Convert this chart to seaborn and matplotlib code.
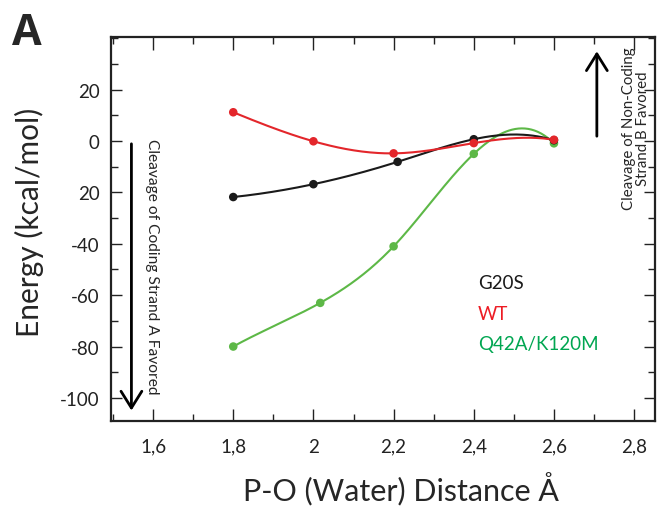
import numpy as np
import pandas as pd
import matplotlib
matplotlib.use("Agg")
import matplotlib.pyplot as plt
from matplotlib.ticker import MultipleLocator, FixedLocator
import seaborn as sns

# energy profiles (kcal/mol vs P-O distance)
g20s_x = [1.80, 2.00, 2.21, 2.40, 2.60]
g20s_y = [-21.8, -16.8, -8.1, 0.7, 0.3]
wt_x = [1.80, 2.00, 2.20, 2.40, 2.60]
wt_y = [11.2, -0.1, -4.8, -0.8, 0.5]
q42a_x = [1.80, 2.017, 2.20, 2.40, 2.60]
q42a_y = [-80.0, -63.0, -41.0, -5.0, -0.9]

series = ["G20S", "WT", "Q42A/K120M"]
line_colors = ["#1a1a1a", "#e3262b", "#5db847"]
text_colors = ["#1a1a1a", "#ed1c24", "#00a651"]

ytick_vals = [-100, -80, -60, -40, -20, 0, 20]
ytick_labels = ["-100", "-80", "-60", "-40", "20", "0", "20"]
xtick_vals = [1.6, 1.8, 2.0, 2.2, 2.4, 2.6, 2.8]
xtick_labels = ["1,6", "1,8", "2", "2,2", "2,4", "2,6", "2,8"]


def spline(x, y, n=200):
    # not-a-knot cubic spline through the points, only for the smooth look
    x = np.asarray(x, float)
    y = np.asarray(y, float)
    k = len(x)
    h = np.diff(x)
    A = np.zeros((k, k))
    b = np.zeros(k)
    A[0, 0], A[0, 1], A[0, 2] = h[1], -(h[0] + h[1]), h[0]
    A[-1, -3], A[-1, -2], A[-1, -1] = h[-1], -(h[-2] + h[-1]), h[-2]
    for i in range(1, k - 1):
        A[i, i - 1] = h[i - 1]
        A[i, i] = 2 * (h[i - 1] + h[i])
        A[i, i + 1] = h[i]
        b[i] = 6 * ((y[i + 1] - y[i]) / h[i] - (y[i] - y[i - 1]) / h[i - 1])
    m = np.linalg.solve(A, b)
    xs = np.linspace(x[0], x[-1], n)
    idx = np.clip(np.searchsorted(x, xs) - 1, 0, k - 2)
    t0 = x[idx]
    t1 = x[idx + 1]
    hh = t1 - t0
    ys = (m[idx] * (t1 - xs) ** 3 / (6 * hh) + m[idx + 1] * (xs - t0) ** 3 / (6 * hh)
          + (y[idx] / hh - m[idx] * hh / 6) * (t1 - xs)
          + (y[idx + 1] / hh - m[idx + 1] * hh / 6) * (xs - t0))
    return xs, ys


sns.set_style("ticks")
plt.rcParams["font.family"] = ["Lato", "DejaVu Sans"]

pts = pd.DataFrame({
    "x": g20s_x + wt_x + q42a_x,
    "y": g20s_y + wt_y + q42a_y,
    "s": ["G20S"] * 5 + ["WT"] * 5 + ["Q42A/K120M"] * 5,
})
curves = []
for name, xx, yy in zip(series, [g20s_x, wt_x, q42a_x], [g20s_y, wt_y, q42a_y]):
    xs, ys = spline(xx, yy)
    curves.append(pd.DataFrame({"x": xs, "y": ys, "s": name}))
curves = pd.concat(curves, ignore_index=True)

fig = plt.figure(figsize=(6.59, 5.10), dpi=100)
ax = fig.add_axes([0.1684, 0.1725, 0.8255, 0.753])

pal = dict(zip(series, line_colors))
# green first so black/red sit on top like the original
for name in ["Q42A/K120M", "G20S", "WT"]:
    sub = curves[curves.s == name]
    sns.lineplot(data=sub, x="x", y="y", color=pal[name], lw=1.5, sort=False,
                 estimator=None, ax=ax, legend=False)
    sp = pts[pts.s == name]
    sns.scatterplot(data=sp, x="x", y="y", color=pal[name], s=38,
                    edgecolor="none", ax=ax, legend=False, zorder=3)

ax.set_xlim(1.495, 2.852)
ax.set_ylim(-109, 40.5)

ax.xaxis.set_major_locator(FixedLocator(xtick_vals))
ax.set_xticklabels(xtick_labels)
ax.xaxis.set_minor_locator(MultipleLocator(0.1))
ax.yaxis.set_major_locator(FixedLocator(ytick_vals))
ax.set_yticklabels(ytick_labels)
ax.yaxis.set_minor_locator(MultipleLocator(10))
ax.tick_params(which="both", direction="in", top=True, right=True,
               labelsize=13.5, colors="#222222")
ax.tick_params(which="major", length=9, width=1, pad=12)
ax.tick_params(which="minor", length=5, width=1)
ax.tick_params(axis="y", which="major", length=8, pad=8)

for sp_ in ax.spines.values():
    sp_.set_linewidth(1.6)
    sp_.set_color("#222222")

ax.set_xlabel("P-O (Water) Distance Å", fontsize=22)
ax.set_ylabel("Energy (kcal/mol)", fontsize=21.5)
ax.xaxis.set_label_coords(0.533, -0.13)
ax.yaxis.set_label_coords(-0.123, 0.52)

# legend as coloured text
for i, (name, c) in enumerate(zip(series, text_colors)):
    ax.text(2.41, -55 - i * 12, name, color=c, fontsize=13.5, va="center", ha="left")

# direction arrows
head = "->,head_length=0.8,head_width=0.5"
ax.annotate("", xy=(1.546, -106), xytext=(1.546, 0),
            arrowprops=dict(arrowstyle=head, lw=2, color="black", mutation_scale=15))
ax.text(1.597, 1, "Cleavage of Coding Strand A Favored", rotation=-90,
        ha="center", va="top", fontsize=11.2)
ax.annotate("", xy=(2.707, 36), xytext=(2.707, 0.8),
            arrowprops=dict(arrowstyle=head, lw=2, color="black", mutation_scale=15),
            annotation_clip=False)
ax.text(2.805, 5, "Cleavage of Non-Coding\nStrand B Favored", rotation=90,
        ha="center", va="center", multialignment="center", fontsize=10.8,
        linespacing=1.05)

fig.text(0.018, 0.912, "A", fontsize=31, fontweight="bold", ha="left", va="baseline",
         family=["Open Sans", "DejaVu Sans"])

fig.savefig("out.png", dpi=100)
